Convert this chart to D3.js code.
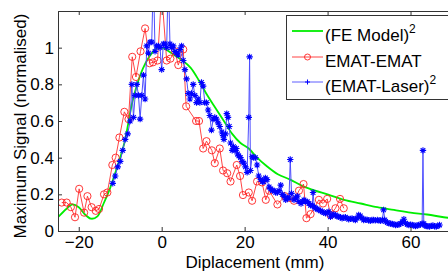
<!DOCTYPE html>
<html>
<head>
<meta charset="utf-8">
<script src="https://cdn.jsdelivr.net/npm/d3@7"></script>
<style>
  body { margin: 0; background: #fff; }
  text { font-family: Arial, "Liberation Sans", sans-serif; }
</style>
</head>
<body>
<div id="chart"></div>
<script>
// FE model (squared), smooth curve
const feX = [-25, -23, -21.5, -20, -18.5, -17, -15.5, -14, -12.5, -11, -9, -7, -5, -3, -1, 0, 1, 3, 5, 7, 9, 11, 13, 15, 17, 19, 21, 23, 25, 28, 31, 34, 37, 40, 44, 48, 52, 56, 60, 64, 68, 70];
const feY = [0.075, 0.12, 0.145, 0.13, 0.09, 0.067, 0.08, 0.15, 0.23, 0.33, 0.48, 0.71, 0.86, 0.95, 1.0, 1.0, 0.99, 0.96, 0.93, 0.89, 0.82, 0.74, 0.67, 0.6, 0.53, 0.48, 0.45, 0.4, 0.36, 0.31, 0.28, 0.245, 0.22, 0.2, 0.17, 0.15, 0.13, 0.115, 0.1, 0.09, 0.075, 0.07];

// EMAT-EMAT
const eeX = [-24.1, -22.9, -21.9, -20.9, -19.9, -18.7, -17.9, -16.9, -15.9, -15.1, -13.9, -13.1, -11.9, -11.1, -10.2, -9.0, -8.0, -7.1, -6.2, -5.1, -4.0, -2.9, -2.1, -1.0, 0, 1.2, 2.1, 3.2, 4.0, 5.2, 5.9, 8.3, 9.0, 10.0, 10.8, 12.1, 12.8, 14.0, 14.8, 15.8, 16.6, 18.1, 18.9, 19.6, 21.0, 21.8, 23.0, 24.2, 25.1, 25.9, 27.9, 29.7, 30.9, 31.9, 33.1, 34.2, 34.9, 35.9, 37.9, 38.9, 39.9, 40.7, 41.9, 43.0, 43.9];
const eeY = [0.155, 0.155, 0.13, 0.075, 0.23, 0.1, 0.19, 0.13, 0.11, 0.12, 0.2, 0.21, 0.36, 0.4, 0.51, 0.65, 0.61, 0.95, 0.84, 0.98, 1.105, 0.915, 0.92, 0.93, 1.3, 0.93, 0.94, 0.98, 0.905, 0.99, 0.68, 0.6, 0.6, 0.45, 0.49, 0.44, 0.37, 0.45, 0.33, 0.315, 0.27, 0.36, 0.3, 0.196, 0.21, 0.165, 0.27, 0.265, 0.17, 0.22, 0.145, 0.19, 0.18, 0.165, 0.22, 0.256, 0.07, 0.092, 0.17, 0.15, 0.175, 0.087, 0.124, 0.175, 0.124];

// (EMAT-Laser)^2
const elX = [-11.8, -11.2, -10.6, -10.0, -9.4, -8.8, -8.2, -7.6, -7.2, -6.8, -6.4, -6.0, -5.6, -5.2, -4.8, -4.4, -4.0, -3.6, -3.2, -2.8, -2.4, -2.0, -1.6, -1.2, -0.8, -0.4, 0.0, 0.4, 0.8, 1.2, 1.6, 2.0, 2.4, 2.8, 3.2, 3.6, 4.0, 4.4, 4.8, 5.2, 5.6, 6.0, 6.4, 6.8, 7.2, 7.6, 8.0, 8.4, 8.8, 9.2, 9.6, 10.0, 10.4, 10.8, 11.2, 11.6, 12.0, 12.4, 12.8, 13.2, 13.6, 14.0, 14.5, 14.8, 15.0, 15.4, 15.7, 16.0, 16.3, 16.6, 17.0, 17.3, 17.7, 18.0, 18.3, 18.6, 19.0, 19.4, 19.8, 20.2, 20.6, 21.0, 21.2, 21.4, 21.8, 22.2, 22.6, 23.0, 23.4, 23.9, 24.3, 24.6, 25.0, 25.4, 25.9, 26.3, 26.7, 27.1, 27.5, 27.9, 28.3, 28.7, 29.1, 29.5, 29.9, 30.3, 30.7, 31.0, 31.3, 31.9, 32.3, 32.7, 33.1, 33.6, 34.0, 34.3, 34.7, 35.1, 35.5, 35.9, 36.3, 36.5, 36.8, 37.1, 37.5, 37.9, 38.3, 38.7, 39.1, 39.5, 39.9, 40.3, 40.7, 41.1, 41.5, 41.9, 42.3, 42.7, 43.1, 43.5, 43.9, 44.3, 44.7, 45.1, 45.5, 45.9, 46.3, 46.7, 47.1, 47.5, 47.9, 48.3, 48.7, 49.1, 49.5, 49.9, 50.3, 50.7, 51.1, 51.5, 52.0, 52.4, 52.8, 53.2, 53.5, 53.8, 54.0, 54.4, 54.8, 55.2, 55.6, 56.0, 56.4, 56.8, 57.2, 57.6, 58.0, 58.4, 58.8, 59.2, 59.6, 60.0, 60.4, 60.8, 61.2, 61.6, 62.0, 62.4, 62.8, 63.0, 63.2, 63.5, 63.8, 64.2, 64.6, 65.0, 65.4, 65.8, 66.2, 66.6, 67.0];
const elY = [0.26, 0.3, 0.35, 0.38, 0.44, 0.5, 0.53, 0.6, 0.8, 0.62, 0.74, 0.8, 0.74, 0.61, 0.74, 0.85, 0.72, 1.01, 0.97, 1.03, 1.03, 1.4, 0.98, 1.01, 1.01, 1.0, 0.88, 1.02, 1.02, 1.0, 1.4, 1.02, 1.0, 1.01, 0.98, 0.97, 0.96, 0.99, 1.01, 0.93, 0.88, 0.83, 0.75, 0.72, 0.75, 0.8, 0.74, 0.7, 0.72, 0.7, 0.81, 0.79, 0.7, 0.7, 0.66, 0.63, 0.55, 0.61, 0.62, 0.61, 0.59, 0.57, 0.54, 0.52, 0.5, 0.53, 0.64, 0.62, 0.57, 0.48, 0.44, 0.46, 0.44, 0.45, 0.42, 0.41, 0.4, 0.38, 0.37, 0.35, 0.32, 0.62, 0.95, 0.33, 0.405, 0.4, 0.4, 0.36, 0.3, 0.28, 0.27, 0.27, 0.29, 0.28, 0.24, 0.23, 0.22, 0.22, 0.21, 0.21, 0.22, 0.25, 0.2, 0.19, 0.17, 0.18, 0.18, 0.39, 0.205, 0.17, 0.18, 0.19, 0.16, 0.15, 0.16, 0.17, 0.16, 0.16, 0.15, 0.14, 0.14, 0.21, 0.13, 0.124, 0.12, 0.115, 0.11, 0.105, 0.1, 0.097, 0.1, 0.105, 0.078, 0.087, 0.09, 0.087, 0.08, 0.078, 0.075, 0.069, 0.072, 0.075, 0.07, 0.064, 0.066, 0.069, 0.065, 0.06, 0.07, 0.087, 0.082, 0.07, 0.06, 0.062, 0.062, 0.058, 0.056, 0.06, 0.06, 0.058, 0.06, 0.058, 0.056, 0.06, 0.115, 0.06, 0.051, 0.046, 0.042, 0.04, 0.038, 0.036, 0.033, 0.034, 0.035, 0.04, 0.05, 0.064, 0.042, 0.036, 0.033, 0.034, 0.033, 0.03, 0.027, 0.03, 0.033, 0.035, 0.04, 0.44, 0.04, 0.03, 0.027, 0.026, 0.024, 0.028, 0.03, 0.026, 0.024, 0.028, 0.033];

const xTicks = [-20, 0, 20, 40, 60];
const yTicks = [0, 0.2, 0.4, 0.6, 0.8, 1];

const W = 448, H = 271;
const pL = 58, pT = 11, pR = 452, pB = 231;
const fs = 17;

const svg = d3.select('#chart').append('svg')
  .attr('width', W).attr('height', H);

const x = d3.scaleLinear().domain([-25, 70]).range([pL, pR]);
const y = d3.scaleLinear().domain([0, 1.2]).range([pB, pT]);

svg.append('clipPath').attr('id', 'plot')
  .append('rect').attr('x', pL).attr('y', pT)
  .attr('width', pR - pL).attr('height', pB - pT);

const g = svg.append('g').attr('clip-path', 'url(#plot)');

const fe = feX.map((d, i) => [d, feY[i]]);
const ee = eeX.map((d, i) => [d, eeY[i]]);
const el = elX.map((d, i) => [d, elY[i]]);

const line = d3.line().x(d => x(d[0])).y(d => y(d[1]));

g.append('path').datum(fe)
  .attr('d', line.curve(d3.curveCatmullRom))
  .attr('fill', 'none').attr('stroke', '#00ee00').attr('stroke-width', 1.8);

line.curve(d3.curveLinear);

g.append('path').datum(ee)
  .attr('d', line)
  .attr('fill', 'none').attr('stroke', '#ff3030').attr('stroke-width', 0.9);
g.selectAll('.ee').data(ee).join('circle')
  .attr('class', 'ee')
  .attr('cx', d => x(d[0])).attr('cy', d => y(d[1])).attr('r', 3.6)
  .attr('fill', 'none').attr('stroke', '#ff2020').attr('stroke-width', 0.9);

const star = 'M-3.2,0H3.2M0,-3.2V3.2M-2.3,-2.3L2.3,2.3M-2.3,2.3L2.3,-2.3';

g.append('path').datum(el)
  .attr('d', line)
  .attr('fill', 'none').attr('stroke', '#4d4dff').attr('stroke-width', 1);
g.selectAll('.el').data(el).join('path')
  .attr('class', 'el')
  .attr('transform', d => `translate(${x(d[0])},${y(d[1])})`)
  .attr('d', star)
  .attr('fill', 'none').attr('stroke', '#0000ff').attr('stroke-width', 1.1);

// axes (ticks inside, box)
const axisCol = '#333';
const ax = [
  d3.axisBottom(x).tickValues(xTicks).tickSize(-4).tickPadding(5),
  d3.axisTop(x).tickValues(xTicks).tickSize(-4).tickFormat(''),
  d3.axisLeft(y).tickValues(yTicks).tickSize(-4).tickPadding(4).tickFormat(d3.format('~g')),
  d3.axisRight(y).tickValues(yTicks).tickSize(-4).tickFormat('')
];
const pos = [[0, pB], [0, pT], [pL, 0], [pR, 0]];
ax.forEach((a, i) => {
  const s = svg.append('g').attr('transform', `translate(${pos[i][0]},${pos[i][1]})`).call(a);
  s.select('.domain').attr('stroke', axisCol);
  s.selectAll('.tick line').attr('stroke', axisCol);
  s.selectAll('text').attr('font-size', fs).attr('fill', '#000')
    .attr('font-family', 'Arial, "Liberation Sans", sans-serif');
});

svg.append('text')
  .attr('x', (pL + 448) / 2 + 2).attr('y', 268)
  .attr('text-anchor', 'middle').attr('font-size', fs)
  .text('Diplacement (mm)');

svg.append('text')
  .attr('transform', `translate(26,${(pT + pB) / 2 + 5}) rotate(-90)`)
  .attr('text-anchor', 'middle').attr('font-size', fs)
  .text('Maximum Signal (normalised)');

// legend
const leg = svg.append('g');
leg.append('rect').attr('x', 286.5).attr('y', 15.5).attr('width', 200).attr('height', 84)
  .attr('fill', '#fff').attr('stroke', axisCol);

const names = [['(FE Model)', '2'], ['EMAT-EMAT', ''], ['(EMAT-Laser)', '2']];
const cols = ['#00ee00', '#ff3030', '#4d4dff'];
const ly = [31, 57, 82];
names.forEach((n, i) => {
  leg.append('line').attr('x1', 292).attr('x2', 323)
    .attr('y1', ly[i]).attr('y2', ly[i])
    .attr('stroke', cols[i]).attr('stroke-width', i === 0 ? 1.8 : 0.9);
  const t = leg.append('text').attr('x', 325).attr('y', ly[i] + 10)
    .attr('font-size', fs).text(n[0]);
  if (n[1]) t.append('tspan').attr('dy', -8).attr('font-size', 12).text(n[1]);
});
leg.append('circle').attr('cx', 307.5).attr('cy', ly[1]).attr('r', 3)
  .attr('fill', 'none').attr('stroke', '#ff2020').attr('stroke-width', 0.9);
leg.append('path').attr('transform', `translate(307.5,${ly[2]})`)
  .attr('d', 'M-2.5,0H2.5M0,-2.5V2.5').attr('stroke', '#0000ff').attr('stroke-width', 1);
</script>
</body>
</html>
